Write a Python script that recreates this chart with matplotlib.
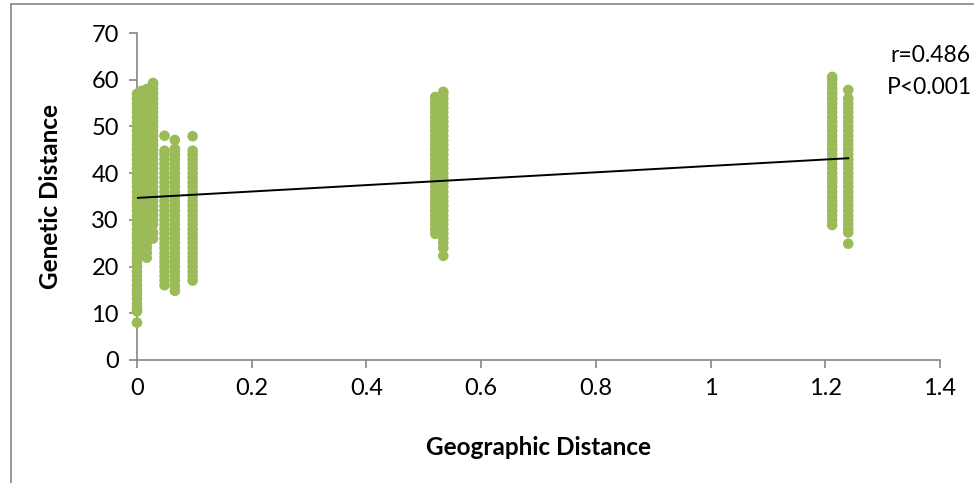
import matplotlib
matplotlib.use('Agg')
import matplotlib.pyplot as plt
from matplotlib.patches import Rectangle

# geographic distance of each column of points
geo_x = [0.0, 0.008, 0.017, 0.028, 0.048, 0.066, 0.097, 0.520, 0.534, 1.212, 1.240]

# genetic distance values
gen_000 = [8, 10.4, 11, 12, 13, 14, 15, 16, 17, 18, 19, 20, 21, 22, 23, 24, 25, 26, 27, 28,
           29, 30, 31, 32, 33, 34, 35, 36, 37, 38, 39, 40, 41, 42, 43, 44, 45, 46, 47, 48,
           49, 50, 51, 52, 53, 54, 55, 56, 57]
gen_008 = [24, 25, 26, 27, 28, 29, 30, 31, 32, 33, 34, 35, 36, 37, 38, 39, 40, 41, 42, 43,
           44, 45, 46, 47, 48, 49, 50, 51, 52, 52.6, 56.7, 57.6]
gen_017 = [21.9, 23, 24, 25, 26, 27, 28, 29, 30, 31, 32, 33, 34, 35, 36, 37, 38, 39, 40, 41,
           42, 43, 44, 45, 46, 47, 48, 49, 50, 51, 52, 53, 54, 55, 56, 57, 58]
gen_028 = [26, 27.3, 29, 30, 31, 32, 33, 34, 35, 36, 37, 38, 39, 40, 41, 42, 43, 44, 45, 46,
           47, 48, 49, 50, 51, 52, 53, 54, 55, 56, 57, 58, 59, 59.3]
gen_048 = [16, 17, 18, 19, 20, 21, 22, 23, 24, 25, 26, 27, 28, 29, 30, 31, 32, 33, 34, 35,
           36, 37, 38, 39, 40, 41, 42, 43, 44, 44.8, 48]
gen_066 = [14.8, 15.8, 17, 18, 19, 20, 21, 22, 23, 24, 25, 26, 27, 28, 29, 30, 31, 32, 33, 34,
           35, 36, 37, 38, 39, 40, 41, 42, 43, 44, 45, 45.2, 47.1]
gen_097 = [17, 18, 19, 20, 21, 22, 23, 24, 25, 26, 27, 28, 29, 30, 31, 32, 33, 34, 35, 36,
           37, 38, 39, 40, 41, 42, 43, 44, 44.8, 47.9]
gen_520 = [27, 28, 29, 30, 31, 32, 33, 34, 35, 36, 37, 38, 39, 40, 41, 42, 43, 44, 45, 46,
           47, 48, 49, 50, 51, 52, 53, 54, 55, 56, 56.3]
gen_534 = [22.3, 24, 25, 26, 27, 28, 29, 30, 31, 32, 33, 34, 35, 36, 37, 38, 39, 40, 41, 42,
           43, 44, 45, 46, 47, 48, 49, 50, 51, 52, 53, 54, 55, 56, 57, 57.4]
gen_1212 = [28.9, 30, 31, 32, 33, 34, 35, 36, 37, 38, 39, 40, 41, 42, 43, 44, 45, 46, 47, 48,
            49, 50, 51, 52, 53, 54, 55, 56, 57, 58, 59, 60, 60.6]
gen_1240 = [24.9, 27.3, 28, 29, 30, 31, 32, 33, 34, 35, 36, 37, 38, 39, 40, 41, 42, 43, 44, 45,
            46, 47, 48, 49, 50, 51, 52, 53, 54, 55, 56, 57.8]

gen_cols = [gen_000, gen_008, gen_017, gen_028, gen_048, gen_066, gen_097,
            gen_520, gen_534, gen_1212, gen_1240]

# linear trend line (Excel)
trend_intercept = 34.7
trend_slope = 6.85

x_ticks = [0, 0.2, 0.4, 0.6, 0.8, 1, 1.2, 1.4]
x_tick_labels = ['0', '0.2', '0.4', '0.6', '0.8', '1', '1.2', '1.4']
y_ticks = [0, 10, 20, 30, 40, 50, 60, 70]

stat_lines = ['r=0.486', 'P<0.001']

plt.rcParams['font.family'] = ['Lato', 'DejaVu Sans']
grey = '#868686'
green = '#9BBB59'

fig = plt.figure(figsize=(9.74, 4.83), dpi=100)
ax = fig.add_axes([137 / 974, 1 - 360 / 483, 803 / 974, 327 / 483])

xs = []
ys = []
for x, col in zip(geo_x, gen_cols):
    xs += [x] * len(col)
    ys += col
# points sit on top of the axis line, like in Excel
ax.scatter(xs, ys, s=58, color=green, edgecolors='none', zorder=3, clip_on=False)

# trend line over the data range
x_end = max(geo_x)
ax.plot([0, x_end], [trend_intercept, trend_intercept + trend_slope * x_end],
        color='black', lw=1.4, zorder=4)

ax.set_xlim(0, 1.4)
ax.set_ylim(0, 70)
ax.set_xticks(x_ticks)
ax.set_xticklabels(x_tick_labels)
ax.set_yticks(y_ticks)

for s in ['top', 'right']:
    ax.spines[s].set_visible(False)
for s in ['left', 'bottom']:
    ax.spines[s].set_color(grey)
    ax.spines[s].set_linewidth(1.2)
ax.tick_params(direction='out', length=6, width=1.2, color=grey, labelsize=17, pad=7)

ax.set_xlabel('Geographic Distance', fontsize=17.5, fontweight='bold')
ax.set_ylabel('Genetic Distance', fontsize=17.5, fontweight='bold')
ax.xaxis.set_label_coords(0.5, -0.232)
ax.yaxis.set_label_coords(-0.093, 0.5)

fig.text(890 / 974, 1 - 55 / 483, stat_lines[0], fontsize=16.5, ha='left', va='center')
fig.text(887 / 974, 1 - 87 / 483, stat_lines[1], fontsize=16.5, ha='left', va='center')

# outer chart frame, cut off at right and bottom
fig.add_artist(Rectangle((11 / 974, -0.5), 2, 0.5 + 1 - 4 / 483, transform=fig.transFigure,
                         fill=False, edgecolor=grey, lw=1.2))

fig.savefig('out.png', dpi=100)
